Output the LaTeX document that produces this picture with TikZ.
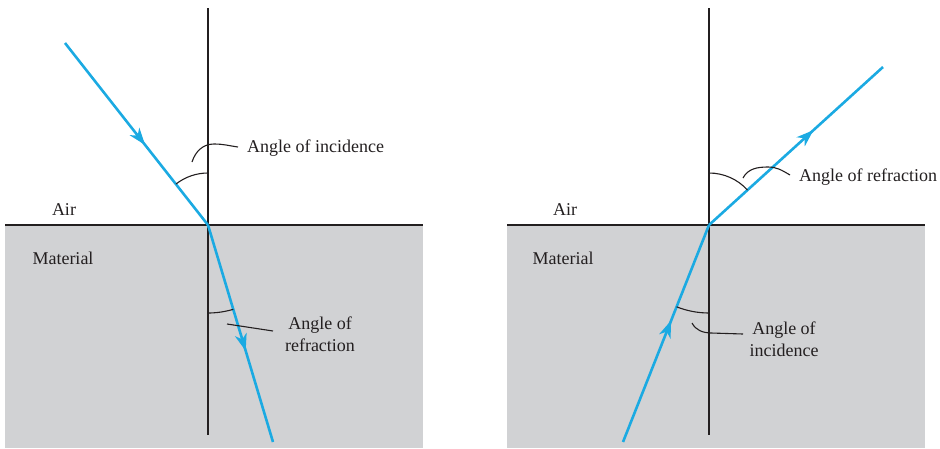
\documentclass[tikz,border=0pt]{standalone}
\usepackage{fontspec}
\setmainfont{Liberation Serif}
\usetikzlibrary{arrows.meta,decorations.markings}
\definecolor{raycol}{RGB}{27,170,226}
\definecolor{matcol}{RGB}{209,210,212}
\definecolor{inkcol}{RGB}{35,31,32}
\tikzset{
  raypath/.style={draw=raycol,line width=2.6pt},
  midarrow/.style={postaction={decorate},decoration={markings,
     mark=at position #1 with {\arrow[raycol]{Stealth[length=17pt,width=12pt,inset=5pt]}}}},
  inkline/.style={draw=inkcol,line width=1.1pt},
  lbl/.style={text=inkcol,font=\fontsize{18}{21}\selectfont,inner sep=0pt},
}
\begin{document}
\begin{tikzpicture}[x=1pt,y=1pt]
\useasboundingbox (0,0) rectangle (940,-448);
% materials
\fill[matcol] (5,-225) rectangle (423,-448);
\fill[matcol] (507,-225) rectangle (925,-448);
\draw[inkline] (5,-225) -- (423,-225);
\draw[inkline] (507,-225) -- (925,-225);
% normals
\coordinate (n1t) at (208,-8);
\coordinate (n1b) at (208,-435);
\coordinate (n2t) at (709,-8);
\coordinate (n2b) at (709,-435);
\draw[inkline] (n1t) -- (n1b);
\draw[inkline] (n2t) -- (n2b);
% left rays
\coordinate (o1) at (208,-225);
\coordinate (a1) at (65,-43);
\coordinate (b1) at (273,-442);
\draw[raypath,midarrow=0.56] (a1) -- (o1);
\draw[raypath,midarrow=0.58] (o1) -- (b1);
% right rays
\coordinate (o2) at (709,-225);
\coordinate (a2) at (623,-442);
\coordinate (b2) at (883,-67);
\draw[raypath,midarrow=0.56] (a2) -- (o2);
\draw[raypath,midarrow=0.60] (o2) -- (b2);
% angle arcs
\draw[inkline] (o1) ++(90:52pt) arc[start angle=90,end angle=128,radius=52pt];
\draw[inkline] (o1) ++(270:88pt) arc[start angle=270,end angle=286.7,radius=88pt];
\draw[inkline] (o2) ++(90:52pt) arc[start angle=90,end angle=42.2,radius=52pt];
\draw[inkline] (o2) ++(270:88pt) arc[start angle=270,end angle=248.4,radius=88pt];
% labels
\node[lbl,anchor=west] (inc1) at (247,-148) {Angle of incidence};
\node[lbl,align=center] (ref1) at (320,-334) {Angle of\\[1pt]refraction};
\node[lbl,anchor=west] (ref2) at (799,-177) {Angle of refraction};
\node[lbl,align=center] (inc2) at (784,-339) {Angle of\\[1pt]incidence};
\node[lbl] (air1) at (64,-210) {Air};
\node[lbl] (mat1) at (63,-258) {Material};
\node[lbl] (air2) at (565,-210) {Air};
\node[lbl] (mat2) at (563,-258) {Material};
% leaders
\coordinate (l1a) at (192,-162);
\coordinate (l2a) at (227,-324);
\coordinate (l3a) at (743,-178);
\coordinate (l4a) at (692,-323);
\draw[inkline] (l1a) to[out=72,in=180] (214,-144) to[out=0,in=172] (238,-147);
\draw[inkline] (l2a) -- (273,-331);
\draw[inkline] (l3a) to[out=62,in=180] (768,-167) to[out=0,in=150] (790,-175);
\draw[inkline] (l4a) to[out=-62,in=178] (711,-333) -- (743,-334);
\end{tikzpicture}
\end{document}
